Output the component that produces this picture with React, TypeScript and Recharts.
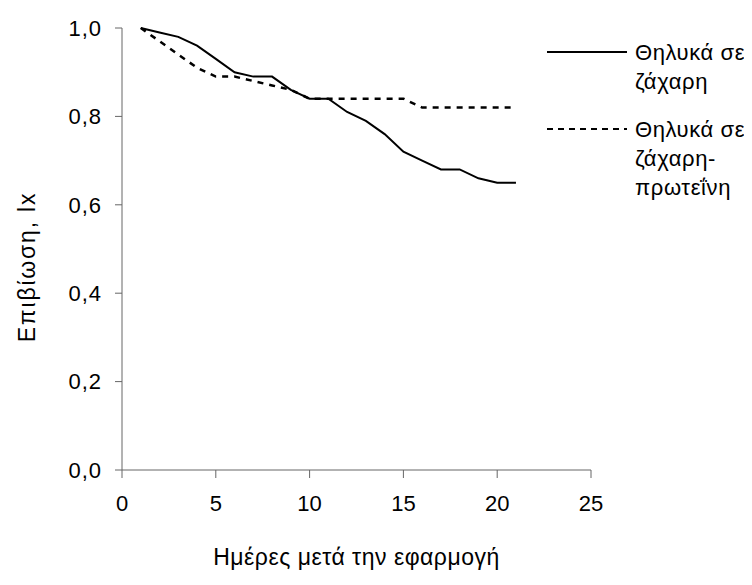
import React from 'react';
import { LineChart, Line, XAxis, YAxis, Legend, Label } from 'recharts';

const days = [1, 2, 3, 4, 5, 6, 7, 8, 9, 10, 11, 12, 13, 14, 15, 16, 17, 18, 19, 20, 21];
const sugar = [1.0, 0.99, 0.98, 0.96, 0.93, 0.9, 0.89, 0.89, 0.86, 0.84, 0.84, 0.81, 0.79, 0.76, 0.72, 0.7, 0.68, 0.68, 0.66, 0.65, 0.65];
const sugarProtein = [1.0, 0.97, 0.94, 0.91, 0.89, 0.89, 0.88, 0.87, 0.86, 0.84, 0.84, 0.84, 0.84, 0.84, 0.84, 0.82, 0.82, 0.82, 0.82, 0.82, 0.82];
const xTicks = [0, 5, 10, 15, 20, 25];
const yTicks = [0, 0.2, 0.4, 0.6, 0.8, 1.0];
const seriesNames = ['Θηλυκά σε ζάχαρη', 'Θηλυκά σε ζάχαρη-πρωτεΐνη'];
const legendLines = [
  ['Θηλυκά σε', 'ζάχαρη'],
  ['Θηλυκά σε', 'ζάχαρη-', 'πρωτεΐνη'],
];
const xTitle = 'Ημέρες μετά την εφαρμογή';
const yTitle = 'Επιβίωση, lx';

const data = days.map((d, i) => ({ day: d, sugar: sugar[i], sugarProtein: sugarProtein[i] }));

const FONT = "'Liberation Sans', Arial, sans-serif";
const AXIS = '#666666';

const fmtY = (v: number) => v.toFixed(1).replace('.', ',');

const LegendContent = () => {
  const samples = [
    { y: 44, dash: undefined as string | undefined, textY: [44, 73] },
    { y: 121, dash: '6 5', textY: [121, 150, 179] },
  ];
  return (
    <svg width={205} height={200} style={{ display: 'block' }}>
      {samples.map((s, i) => (
        <g key={i}>
          <line x1={0} x2={80} y1={s.y} y2={s.y} stroke="#000" strokeWidth={2} strokeDasharray={s.dash} />
          {legendLines[i].map((t, j) => (
            <text key={j} x={88} y={s.textY[j]} dy="0.35em" fontSize={22} letterSpacing={0.6} fontFamily={FONT} fill="#000">
              {t}
            </text>
          ))}
        </g>
      ))}
    </svg>
  );
};

const YTitle = (props: any) => {
  const vb = props.viewBox || {};
  const cx = 19;
  const cy = vb.y + vb.height / 2 + 18;
  return (
    <text x={cx} y={cy} transform={`rotate(-90 ${cx} ${cy})`} textAnchor="middle" dominantBaseline="central" fontSize={23} letterSpacing={1.8} fontFamily={FONT} fill="#000">
      {yTitle}
    </text>
  );
};

export default function App() {
  return (
    <div style={{ width: 744, height: 577 }}>
      <LineChart width={744} height={577} data={data} margin={{ top: 20, right: 161, bottom: 0, left: 0 }}>
        <XAxis
          dataKey="day"
          type="number"
          domain={[0, 25]}
          ticks={xTicks}
          tickSize={8}
          tickMargin={17}
          height={115}
          stroke={AXIS}
          tick={{ fill: '#000', fontSize: 22, fontFamily: FONT }}
          tickLine={{ stroke: AXIS }}
          axisLine={{ stroke: AXIS }}
        >
          <Label value={xTitle} position="insideBottom" offset={20} fontSize={23} letterSpacing={0.5} fontFamily={FONT} fill="#000" />
        </XAxis>
        <YAxis
          type="number"
          domain={[0, 1]}
          ticks={yTicks}
          tickFormatter={fmtY}
          width={114}
          tickSize={7}
          tickMargin={13}
          stroke={AXIS}
          tick={{ fill: '#000', fontSize: 22, fontFamily: FONT, letterSpacing: 1 }}
          tickLine={{ stroke: AXIS }}
          axisLine={{ stroke: AXIS }}
        >
          <Label content={<YTitle />} />
        </YAxis>
        <Legend
          layout="horizontal"
          verticalAlign="middle"
          align="center"
          content={<LegendContent />}
          wrapperStyle={{ position: 'absolute', left: 539, top: 0, width: 205, height: 200 }}
        />
        <Line
          type="linear"
          dataKey="sugar"
          name={seriesNames[0]}
          stroke="#000"
          strokeWidth={2}
          dot={false}
          isAnimationActive={false}
        />
        <Line
          type="linear"
          dataKey="sugarProtein"
          name={seriesNames[1]}
          stroke="#000"
          strokeWidth={2.5}
          strokeDasharray="6 6"
          dot={false}
          isAnimationActive={false}
        />
      </LineChart>
    </div>
  );
}
